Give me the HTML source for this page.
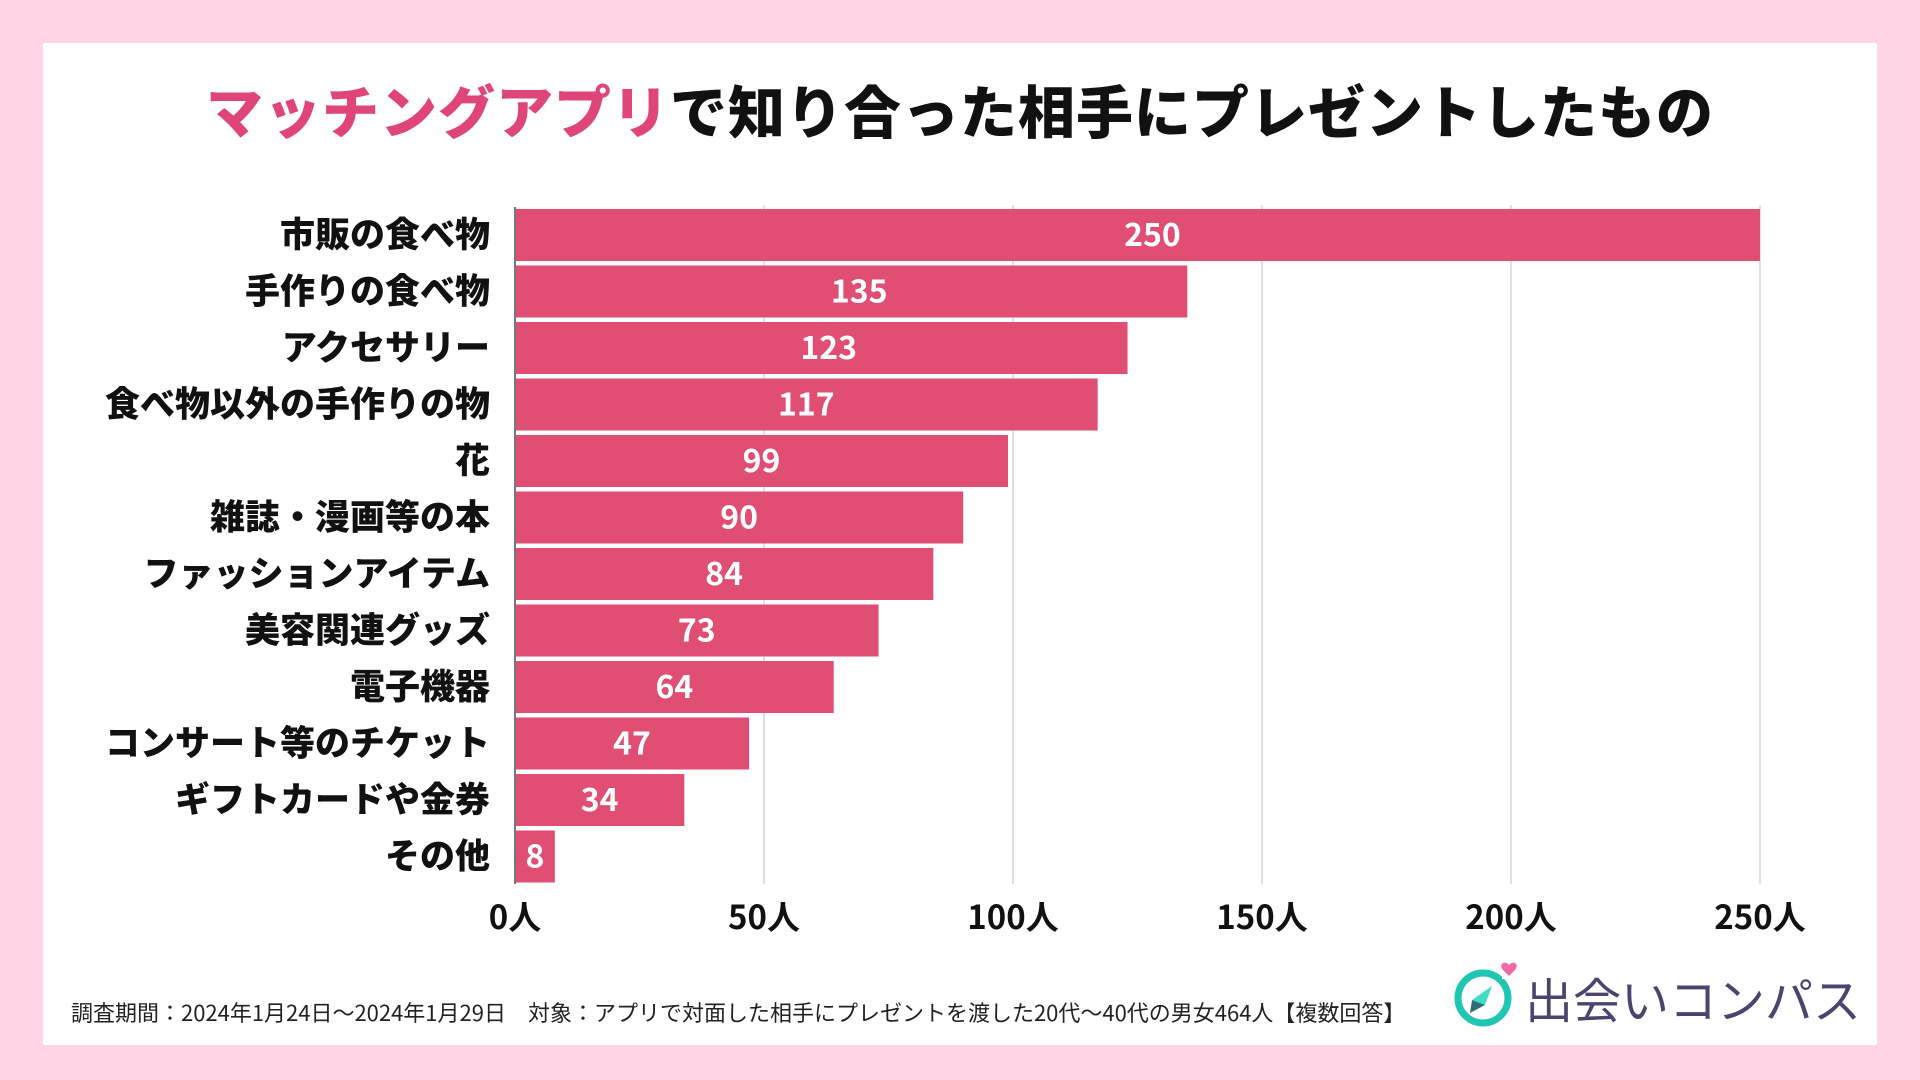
<!DOCTYPE html>
<html><head><meta charset="utf-8"><style>
body{margin:0;width:1920px;height:1080px;background:#fdd5e7;font-family:"Noto Sans CJK JP","Liberation Sans",sans-serif;overflow:hidden}
#panel{position:absolute;left:43px;top:43px;width:1834px;height:1002px;background:#fff}
#title{position:absolute;left:0;top:68px;width:1920px;text-align:center;font-size:57px;font-weight:900;color:#111;letter-spacing:1px}
#title span{color:#e0457a}
#foot{position:absolute;left:71px;top:996px;font-size:22px;color:#222}
#logo{position:absolute;left:1450px;top:955px}
</style></head><body>
<div id="panel"></div>
<div id="title"><span>マッチングアプリ</span>で知り合った相手にプレゼントしたもの</div>
<svg id="chart" width="1920" height="1080" style="position:absolute;left:0;top:0;font-family:'Noto Sans CJK JP','Liberation Sans',sans-serif"></svg>
<div id="foot">調査期間：2024年1月24日～2024年1月29日　対象：アプリで対面した相手にプレゼントを渡した20代～40代の男女464人【複数回答】</div>
<div id="logo">
<svg width="440" height="90">
<circle cx="33" cy="43" r="25" fill="none" stroke="#1fc6b4" stroke-width="7"/>
<rect x="52" y="10" width="14" height="14" fill="#fff"/>
<path d="M59 10 c-4-5-11-1-6 5 l6 6 6-6 c5-6-2-10-6-5z" fill="#f06aa5"/>
<polygon points="42,31 22,45 35,50" fill="#3fdcc8"/><polygon points="22,45 35,50 20,58" fill="#2e6d78"/>
<text x="75" y="63" font-size="48" fill="#4a4570" font-family="Noto Sans CJK JP,sans-serif">出会いコンパス</text>
</svg></div>
<script>
const categories=["市販の食べ物","手作りの食べ物","アクセサリー","食べ物以外の手作りの物","花","雑誌・漫画等の本","ファッションアイテム","美容関連グッズ","電子機器","コンサート等のチケット","ギフトカードや金券","その他"];
const values=[250,135,123,117,99,90,84,73,64,47,34,8];
const ticks=[0,50,100,150,200,250];
const tickLabels=["0人","50人","100人","150人","200人","250人"];
const NS="http://www.w3.org/2000/svg";
const svg=document.getElementById('chart');
const x=v=>515+v*(1760-515)/250;
const y=i=>209+i*56.5;
function mk(t,a,txt){const e=document.createElementNS(NS,t);for(const k in a)e.setAttribute(k,a[k]);if(txt!=null)e.textContent=txt;svg.appendChild(e);return e;}
ticks.forEach((t,i)=>{
 if(t>0){const g=mk('line',{x1:x(t),x2:x(t),y1:205,y2:884,stroke:'#d6d6d6','stroke-width':1.5});
 
 }
 const l=mk('text',{x:x(t),y:929,'text-anchor':'middle','font-size':33,'font-weight':'bold',fill:'#111'},tickLabels[i]);
 
 
});
values.forEach((v,i)=>{
 const r=mk('rect',{x:x(0),y:y(i),width:x(v)-x(0),height:52,fill:'#e04e74'});
 
 
 const c=mk('text',{x:(x(0)+x(v))/2+(v>120?v*0.06:0),y:y(i)+37,'text-anchor':'middle','font-size':32,'font-weight':'bold',fill:'#fff'},v);
 
 
 const cl=mk('text',{x:490,y:y(i)+38,'text-anchor':'end','font-size':35,'font-weight':900,fill:'#111'},categories[i]);
 
 
});
const ax=mk('line',{x1:515,x2:515,y1:207,y2:884,stroke:'#777','stroke-width':2});


</script>
</body></html>
